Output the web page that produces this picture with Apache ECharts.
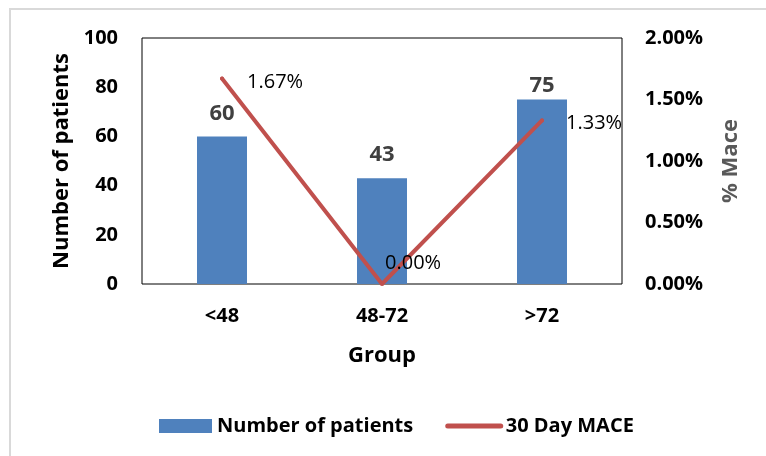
<!DOCTYPE html>
<html>
<head>
<meta charset="utf-8">
<script src="https://cdn.jsdelivr.net/npm/echarts@6/dist/echarts.min.js"></script>
<style>
html,body{margin:0;padding:0;background:#fff;}
#c{width:766px;height:456px;}
</style>
</head>
<body>
<div id="c"></div>
<script>
var categories = ['<48', '48-72', '>72'];
var patients = [60, 43, 75];
var mace = [1.67, 0.00, 1.33];
var leftTicks = [0, 20, 40, 60, 80, 100];
var rightTicks = [0, 0.5, 1.0, 1.5, 2.0];

var FONT = '"Open Sans"';
var lineLabelOffsets = [[0, 4], [-22, -21], [-1, 3]];
var barLabelOffsets = [[0, 0], [0, 0], [0, 9]];

var chart = echarts.init(document.getElementById('c'), null, {renderer: 'canvas'});
var option = {
  backgroundColor: '#ffffff',
  animation: false,
  textStyle: {fontFamily: FONT},
  graphic: [
    {type: 'line', shape: {x1: 10, y1: 9, x2: 10, y2: 456}, style: {stroke: '#d9d9d9', lineWidth: 2}},
    {type: 'line', shape: {x1: 9, y1: 9, x2: 766, y2: 9}, style: {stroke: '#d9d9d9', lineWidth: 2}}
  ],
  grid: {
    left: 142, top: 38, width: 480, height: 246,
    show: true, borderColor: '#000', borderWidth: 1, backgroundColor: 'transparent'
  },
  legend: {
    left: 159, top: 416, padding: 0,
    itemWidth: 53, itemHeight: 14, itemGap: 32,
    textStyle: {fontFamily: FONT, fontWeight: 'bold', fontSize: 20, color: '#000'},
    data: [
      {name: 'Number of patients', icon: 'rect'},
      {name: '30 Day MACE', lineStyle: {width: 5}, itemStyle: {opacity: 0}}
    ]
  },
  xAxis: {
    type: 'category',
    data: categories,
    axisLine: {show: false},
    axisTick: {show: false},
    axisLabel: {fontFamily: FONT, fontWeight: 'bold', fontSize: 20, color: '#000', margin: 22},
    name: 'Group',
    nameLocation: 'middle',
    nameGap: 61,
    nameTextStyle: {fontFamily: FONT, fontWeight: 'bold', fontSize: 22, color: '#000'}
  },
  yAxis: [
    {
      type: 'value', min: 0, max: 100, interval: 20,
      splitLine: {show: false}, axisLine: {show: false}, axisTick: {show: false},
      axisLabel: {fontFamily: FONT, fontWeight: 'bold', fontSize: 20, color: '#000', margin: 24,
        formatter: function (v) { return leftTicks.indexOf(v) >= 0 ? String(v) : ''; }},
      name: 'Number of patients',
      nameLocation: 'middle', nameRotate: 90, nameGap: 68,
      nameTextStyle: {fontFamily: FONT, fontWeight: 'bold', fontSize: 22, color: '#000'}
    },
    {
      type: 'value', min: 0, max: 2, interval: 0.5, position: 'right',
      splitLine: {show: false}, axisLine: {show: false}, axisTick: {show: false},
      axisLabel: {fontFamily: FONT, fontWeight: 'bold', fontSize: 20, color: '#000', margin: 23,
        formatter: function (v) { return rightTicks.indexOf(v) >= 0 ? v.toFixed(2) + '%' : ''; }},
      name: '% Mace',
      nameLocation: 'middle', nameRotate: 90, nameGap: 98,
      nameTextStyle: {fontFamily: FONT, fontWeight: 'bold', fontSize: 22, color: '#595959'}
    }
  ],
  series: [
    {
      name: 'Number of patients',
      type: 'bar',
      data: patients.map(function (v, i) {
        return {value: v, label: {offset: barLabelOffsets[i]}};
      }),
      barWidth: 50,
      itemStyle: {color: '#4F81BD'},
      label: {show: true, position: 'top', distance: 12, fontFamily: FONT, fontWeight: 'bold', fontSize: 22, color: '#404040'}
    },
    {
      name: '30 Day MACE',
      type: 'line',
      yAxisIndex: 1,
      data: mace.map(function (v, i) {
        return {value: v, label: {offset: lineLabelOffsets[i]}};
      }),
      symbol: 'circle', symbolSize: 4, showSymbol: true,
      itemStyle: {color: '#C0504D'},
      lineStyle: {color: '#C0504D', width: 4, cap: 'round'},
      z: 5,
      label: {show: true, position: 'right', distance: 23, fontFamily: FONT, fontSize: 20, color: '#000',
        formatter: function (p) { return p.value.toFixed(2) + '%'; }}
    }
  ]
};
chart.setOption(option);
</script>
</body>
</html>
